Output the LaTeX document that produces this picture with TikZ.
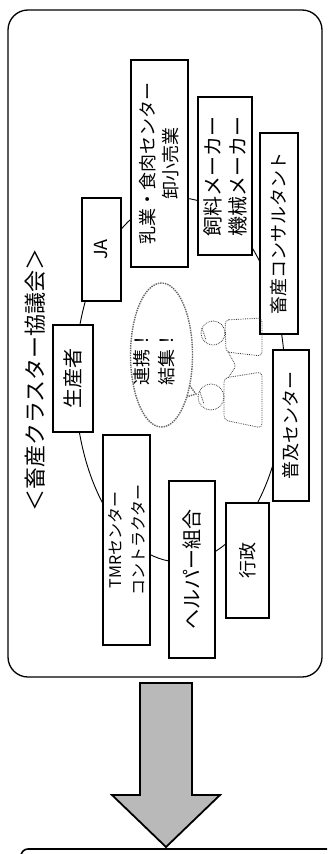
\documentclass[tikz,border=0pt]{standalone}
\usepackage{fontspec}
\setmainfont{Noto Sans CJK JP}

\begin{document}
\begin{tikzpicture}[x=1pt, y=-1pt,
  org/.style={draw, line width=1.2pt, fill=white, rotate=90, align=center,
              inner sep=0pt, font=\fontsize{18}{23}\selectfont},
  big/.style={font=\fontsize{20}{25}\selectfont},
  ring/.style={line width=0.9pt},
  bubble/.style={draw=gray!80!black, line width=1.4pt, densely dotted},
  doodle/.style={draw=black!75, line width=0.8pt, densely dotted}
]
  \useasboundingbox (0,0) rectangle (327,854);

  % frame of the council
  \draw[line width=1.3pt, rounded corners=20pt] (8,10) rectangle (322,677);
  \node[rotate=90, font=\fontsize{22}{26}\selectfont] (title) at (35,380)
    {＜畜産クラスター協議会＞};

  % ring behind the members
  \coordinate (ringc) at (180,380);
  \draw[ring] (ringc) ellipse [x radius=105pt, y radius=182pt];

  \node[org, minimum width=207pt, minimum height=57pt] (nyugyo) at (159.5,163.5)
    {乳業・食肉センター\\卸小売業};
  \node[org, big, minimum width=158pt, minimum height=54pt] (shiryo) at (225,176)
    {飼料メーカー\\機械メーカー};
  \node[org, minimum width=201pt, minimum height=38pt] (consul) at (279,233.5)
    {畜産コンサルタント};
  \node[org, minimum width=103pt, minimum height=39pt] (ja) at (101.5,249.5)
    {JA};
  \node[org, big, minimum width=107pt, minimum height=40pt] (seisan) at (73,378.5)
    {生産者};
  \node[org, minimum width=151pt, minimum height=36pt] (fukyu) at (291,425.5)
    {普及センター};
  \node[org, minimum width=210pt, minimum height=47pt,
        font=\fontsize{16}{23}\selectfont] (tmr) at (126.5,540)
    {TMRセンター\\コントラクター};
  \node[org, big, minimum width=177pt, minimum height=46pt] (helper) at (192,569.5)
    {ヘルパー組合};
  \node[org, minimum width=115pt, minimum height=43pt] (gyosei) at (247.5,560.5)
    {行政};

  % speech bubble
  \coordinate (tailtip) at (196,394);
  \draw[bubble] (184,378) -- (tailtip) -- (176,400);
  \draw[bubble, fill=white] (161.5,355) ellipse [x radius=31pt, y radius=72pt];
  \node[rotate=90, align=left, font=\fontsize{18}{25}\selectfont] (renkei)
    at (154,358) {連携！\\結集！};

  % two people shaking hands
  \draw[doodle] (213,333) circle [radius=12pt];
  \draw[doodle, rounded corners=4pt] (225,320) -- (262,318) -- (262,356)
    -- (226,352) -- cycle;
  \draw[doodle] (211,397) circle [radius=13pt];
  \draw[doodle, rounded corners=4pt] (224,378) -- (262,372) -- (262,428)
    -- (224,420) -- cycle;
  \draw[doodle, rounded corners=3pt] (228,352) -- (236,366) -- (228,378);
  \draw[doodle] (202,328) -- (206,340);
  \draw[doodle] (200,392) -- (204,404);

  % big arrow down
  \draw[line width=1.8pt, fill=gray!55] (140,683) -- (192,683) -- (192,795)
    -- (220,795) -- (166,847) -- (112,795) -- (140,795) -- cycle;

  % top of the next box
  \draw[line width=1.6pt] (21,856) to[out=90, in=180] (28,849) -- (327,849);
\end{tikzpicture}
\end{document}
